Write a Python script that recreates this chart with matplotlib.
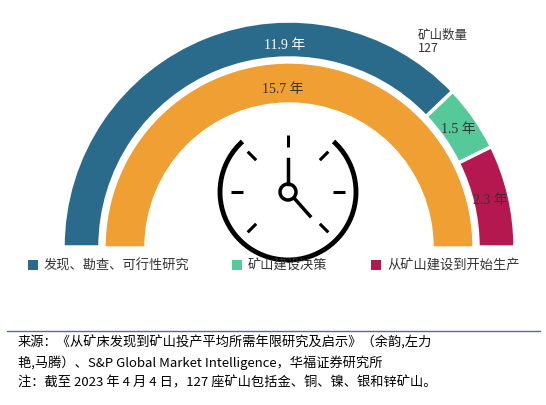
import matplotlib
matplotlib.use("Agg")
import matplotlib.pyplot as plt
from matplotlib.patches import Wedge, Arc, Circle, Rectangle
import numpy as np

plt.rcParams['font.family'] = ['Noto Sans CJK SC', 'DejaVu Sans']

stages = ["发现、勘查、可行性研究", "矿山建设决策", "从矿山建设到开始生产"]
years = [11.9, 1.5, 2.3]
total_years = 15.7
labels = ["11.9 年", "1.5 年", "2.3 年"]
total_label = "15.7 年"
mine_count = 127
colors = ["#2a6b8c", "#56c99b", "#b5174f"]
orange = "#f0a033"
serif = ['Liberation Serif', 'Noto Sans CJK SC']

fig = plt.figure(figsize=(5.46, 4.06), dpi=100)
ax = fig.add_axes([0, 0, 1, 1])
ax.set_xlim(0, 546); ax.set_ylim(406, 0); ax.axis('off')

cx, cy = 289, 248
tot = sum(years)
start = 180.0
label_pos = []
for v, c in zip(years, colors):
    span = 180.0 * v / tot
    end = start - span
    ax.add_patch(Wedge((cx, cy), 226, -start, -end, width=37, facecolor=c, edgecolor='white', lw=2.5))
    mid = np.deg2rad((start + end) / 2)
    label_pos.append((cx + 207 * np.cos(mid), cy - 207 * np.sin(mid)))
    start = end
ax.add_patch(Wedge((cx, cy), 184, -180, 0, width=40, facecolor=orange, edgecolor='white', lw=1))

ax.text(285, 45, labels[0], color='white', fontsize=10, ha='center', va='center', family=serif)
ax.text(label_pos[1][0], label_pos[1][1], labels[1], color='#333333', fontsize=10, ha='center', va='center', family=serif)
ax.text(label_pos[2][0], label_pos[2][1], labels[2], color='#333333', fontsize=10, ha='center', va='center', family=serif)
ax.text(283, 89, total_label, color='#333333', fontsize=10, ha='center', va='center', family=serif)
ax.text(418, 42, f"矿山数量\n{mine_count}", color='#333333', fontsize=9, ha='left', va='center', linespacing=1.1)

# clock
kx, ky, kr = 288, 193, 68
ax.add_patch(Arc((kx, ky), 2 * kr, 2 * kr, theta1=-48, theta2=228, color='black', lw=3.5))
for a in [0, 45, 90, 135, 180, 225, 315]:
    t = np.deg2rad(a)
    r1, r2 = kr - 23, kr - 11
    ax.plot([kx + r1 * np.cos(t), kx + r2 * np.cos(t)], [ky - r1 * np.sin(t), ky - r2 * np.sin(t)], color='black', lw=2.2, solid_capstyle='butt')
ax.plot([kx, kx], [ky - 8, ky - 33], color='black', lw=2.5)
ax.plot([kx + 6, kx + 22], [ky + 6, ky + 24], color='black', lw=2.5)
ax.add_patch(Circle((kx, ky), 8, facecolor='white', edgecolor='black', lw=2.5))

lx = [28, 232, 371]
for x, c, s in zip(lx, colors, stages):
    ax.add_patch(Rectangle((x, 261), 10, 10, facecolor=c))
    ax.text(x + 16, 266, s, fontsize=9.5, va='center', ha='left', color='#333333')

ax.plot([7, 540], [332, 332], color='#4a6fa5', lw=1)
ax.text(18, 343, "来源：《从矿床发现到矿山投产平均所需年限研究及启示》（余韵,左力", fontsize=9.5, va='center', color='black')
ax.text(18, 363, "艳,马腾）、S&P Global Market Intelligence，华福证券研究所", fontsize=9.5, va='center', color='black')
ax.text(18, 383, "注：截至 2023 年 4 月 4 日，127 座矿山包括金、铜、镍、银和锌矿山。", fontsize=9.5, va='center', color='black')

fig.savefig("out.png", dpi=100)
